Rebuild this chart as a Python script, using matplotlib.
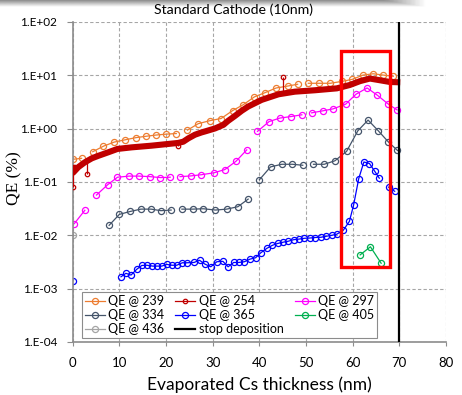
import numpy as np
import matplotlib
matplotlib.use('Agg')
import matplotlib.pyplot as plt
from matplotlib.patches import Rectangle
from matplotlib.lines import Line2D

plt.rcParams['font.family'] = ['Lato', 'DejaVu Sans']

nan = np.nan

# QE @ 239
x239 = [0, 1.9, nan, 4.3, 6.6, 8.9, 11.3, 13.6, 15.7, 17.9, 20.1, 22.2, nan, 24.6, 26.9, 29.5, 31.8,
        34.3, 36.6, 38.9, 41.2, 43.6, 46.1, 48.2, nan, 50.5, 52.8, 55.2, 57.7, 59.9, 62.2, 64.4, 66.6, 68.7]
y239 = [0.266, 0.278, nan, 0.37, 0.47, 0.56, 0.62, 0.68, 0.72, 0.76, 0.79, 0.81, nan, 0.94, 1.24, 1.42, 1.55,
        2.19, 2.83, 3.93, 4.73, 5.79, 6.3, 6.8, nan, 7.1, 7.1, 7.1, 7.7, 8.4, 10.1, 10.7, 10.1, 9.6]

# QE @ 254 (dense series, drawn as thick band) + outlier points
x254 = [0, 0.1, 1.2, 2.6, 4.1, 5.5, 7.6, 9.6, 12.6, 16.9, 22.6, 23.7, 24.8, 26.2, 27.6, 28.4, 30.5, 32.3,
        33.3, 34.8, 36.2, 37.6, 40.5, 44.1, 47.6, 51.9, 56.6, 59.4, 61.6, 63.7, 65.8, 68.0, 70.2]
y254 = [0.21, 0.15, 0.19, 0.234, 0.278, 0.31, 0.36, 0.417, 0.446, 0.48, 0.54, 0.57, 0.66, 0.77, 0.85, 0.89,
        1.01, 1.18, 1.40, 1.74, 2.16, 2.6, 3.47, 4.41, 4.94, 5.25, 5.7, 6.6, 7.8, 8.7, 8.1, 7.5, 7.4]
x254_out = [0, 3.0, 22.6, 45.0]
y254_base = [0.15, 0.25, 0.54, 4.6]
y254_out = [0.079, 0.14, 0.466, 9.4]

# QE @ 297
x297 = [0.35, 2.6, nan, 5.1, 7.5, 9.6, 12.1, 14.2, 16.6, 18.8, 20.9, nan, 23.0, 25.3, 27.6, 30.3, 32.6,
        35.0, 37.3, nan, 39.6, 42.1, 44.4, 46.8, 49.1, nan, 51.2, 53.6, 55.8, 58.5, 60.7, 63.1, 65.3, 67.5, 69.5]
y297 = [0.0166, 0.0295, nan, 0.057, 0.089, 0.123, 0.129, 0.129, 0.126, 0.121, 0.123, nan, 0.126, 0.13, 0.137,
        0.149, 0.171, 0.245, 0.40, nan, 0.89, 1.36, 1.58, 1.69, 1.82, nan, 1.98, 2.16, 2.35, 2.88, 4.42, 5.8,
        4.23, 2.95, 2.25]

# QE @ 334
x334 = [7.8, 10.0, 12.3, 14.6, 16.8, 18.9, 21.1, nan, 23.4, 25.7, 28.0, 30.6, 33.0, 35.4, 37.6, nan,
        40.0, 42.4, 44.8, 47.1, 49.3, nan, 51.6, 53.9, 56.2, 58.7, 61.1, 63.3, 65.5, 67.6, 69.6]
y334 = [0.0154, 0.0247, 0.028, 0.031, 0.031, 0.029, 0.0298, nan, 0.031, 0.031, 0.0315, 0.0298, 0.031,
        0.0344, 0.0478, nan, 0.11, 0.192, 0.215, 0.215, 0.206, nan, 0.215, 0.215, 0.25, 0.376, 0.91, 1.45,
        0.91, 0.57, 0.39]

# QE @ 365
x365 = [0.06, nan, 10.35, 11.4, 12.5, 13.7, 14.8, 15.9, 17.1, 18.1, 19.1, 20.2, 21.2, 22.3, 23.5, 24.6,
        26.0, 27.2, 28.3, 29.6, 30.9, 32.2, 33.3, 34.5, 35.6, 36.8, 38.0, 39.2, 40.3, 41.6, 42.8, 43.9,
        45.1, 46.2, 47.4, 48.5, 49.6, 50.8, 51.9, 53.2, 54.3, 55.5, 56.6, 58.0, 59.3, 60.2, 61.3, 62.4,
        63.6, 64.7, 65.7, nan, 67.7, 69.0]
y365 = [0.00137, nan, 0.00167, 0.00194, 0.0018, 0.0023, 0.00272, 0.00275, 0.00265, 0.00265, 0.00265,
        0.00285, 0.00275, 0.00275, 0.00306, 0.00306, 0.0031, 0.0034, 0.0029, 0.00257, 0.0032, 0.00325,
        0.00257, 0.0031, 0.0031, 0.0032, 0.00358, 0.0038, 0.0047, 0.0057, 0.0065, 0.00703, 0.00743,
        0.00776, 0.0083, 0.0085, 0.0088, 0.0089, 0.0091, 0.0092, 0.0096, 0.0100, 0.0105, 0.0125, 0.0183,
        0.037, 0.116, 0.237, 0.222, 0.16, 0.118, nan, 0.08, 0.067]

# QE @ 405
x405 = [61.6, 63.8, 66.1]
y405 = [0.0043, 0.0061, 0.0030]

# QE @ 436
x436 = [0]
y436 = [0.01]

stop_x = 70
box_x = [57.4, 68.1]
box_y = [0.0026, 28]

yticks = [1e-4, 1e-3, 1e-2, 1e-1, 1e0, 1e1, 1e2]
ylabels = ['1.E-04', '1.E-03', '1.E-02', '1.E-01', '1.E+00', '1.E+01', '1.E+02']
xticks = [0, 10, 20, 30, 40, 50, 60, 70, 80]

fig = plt.figure(figsize=(4.62, 3.95), dpi=100)
ax = fig.add_axes([72.7 / 462, 1 - 342 / 395, (446 - 72.7) / 462, 320 / 395])

mk = dict(marker='o', ms=4.4, mfc='none', mew=0.9, lw=0.9)
ax.plot(x239, y239, color='#ED7D31', **mk)
ax.plot(x254, y254, color='#C00000', lw=4.4, solid_capstyle='butt', zorder=3)
ax.vlines(x254_out, y254_base, y254_out, color='#C00000', lw=0.9, zorder=3)
ax.plot(x254_out, y254_out, 'o', color='#C00000', ms=3.2, mfc='none', mew=0.9, zorder=3)
ax.plot(x297, y297, color='#FF00FF', **mk)
ax.plot(x334, y334, color='#44546A', **mk)
ax.plot(x365, y365, color='#0000FF', **mk)
ax.plot(x405, y405, color='#00B050', **mk)
ax.plot(x436, y436, color='#A5A5A5', **mk)
ax.axvline(stop_x, color='black', lw=1.6, zorder=4)

# highlight box
ax.add_patch(Rectangle((box_x[0], box_y[0]), box_x[1] - box_x[0], box_y[1] - box_y[0],
                       fill=False, edgecolor='#FF0000', lw=2.4, zorder=5))

ax.set_yscale('log')
ax.set_xlim(0, 80)
ax.set_ylim(1e-4, 1e2)
ax.set_yticks(yticks)
ax.set_yticklabels(ylabels)
ax.yaxis.set_minor_locator(matplotlib.ticker.NullLocator())
ax.set_xticks(xticks)
ax.tick_params(axis='y', labelsize=8.5, length=4, color='#8C8C8C', pad=7)
ax.tick_params(axis='x', labelsize=9.5, length=3, color='#8C8C8C', pad=8)
ax.grid(True, color='#A6A6A6', ls=(0, (3, 2)), lw=0.8)
for s in ['top', 'right']:
    ax.spines[s].set_visible(False)
for s in ['left', 'bottom']:
    ax.spines[s].set_color('#8C8C8C')
    ax.spines[s].set_linewidth(1.2)
ax.set_xlabel('Evaporated Cs thickness (nm)', fontsize=12.5, labelpad=5)
fig.text(14 / 462, 1 - 178 / 395, 'QE (%)', rotation=90, ha='center', va='center',
         fontsize=12.5, family='Liberation Serif')

# legend: matplotlib fills columns first, so order the handles to read row-wise
def h(c, ms=4.4):
    return Line2D([], [], color=c, marker='o', ms=ms, mfc='none', mew=0.9, lw=0.9)

handles = [h('#ED7D31'), h('#44546A'), h('#A5A5A5'),
           h('#C00000', 3.2), h('#0000FF'), Line2D([], [], color='black', lw=1.6),
           h('#FF00FF'), h('#00B050')]
labels = ['QE @ 239', 'QE @ 334', 'QE @ 436',
          'QE @ 254', 'QE @ 365', 'stop deposition',
          'QE @ 297', 'QE @ 405']
leg = ax.legend(handles, labels, ncol=3, loc='lower left', bbox_to_anchor=(0.025, 0.0125, 0.79, 0.14),
                mode='expand', fontsize=9, frameon=True, fancybox=False, framealpha=1,
                edgecolor='#8C8C8C', handlelength=1.6, handletextpad=0.25, labelspacing=0.15,
                borderpad=0.25, borderaxespad=0)
leg.get_frame().set_linewidth(0.8)
leg.set_zorder(6)

# slide shadow at the top + title
sh = fig.add_axes([0, 1 - 7 / 395, 428 / 462, 7 / 395])
grad = np.linspace(0.55, 1.0, 20).reshape(-1, 1) * np.ones((1, 100))
grad[:, 90:] = np.maximum(grad[:, 90:], np.linspace(0.6, 1.0, 10))
sh.imshow(grad, cmap='gray', vmin=0, vmax=1, aspect='auto')
sh.axis('off')
fig.text(234 / 462, 1 - 10 / 395, 'Standard Cathode (10nm)', ha='center', va='center', fontsize=10.2)

fig.savefig('out.png', dpi=100)
